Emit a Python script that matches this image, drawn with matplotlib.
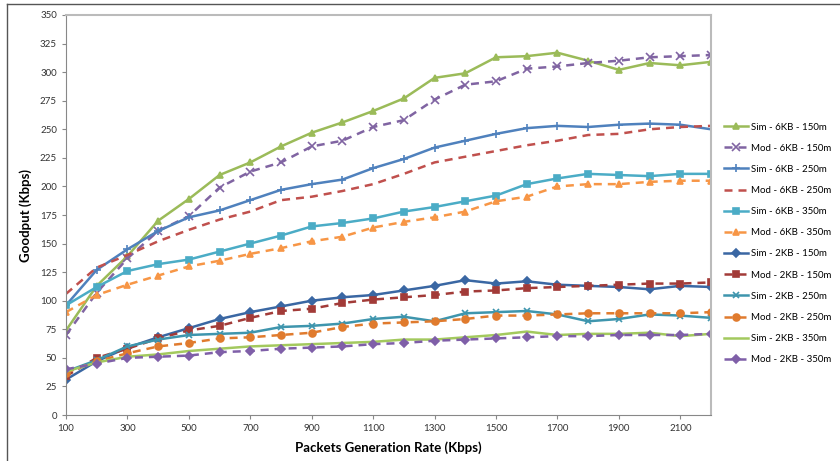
import matplotlib
matplotlib.use("Agg")
import matplotlib.pyplot as plt
from matplotlib.lines import Line2D

plt.rcParams['font.family'] = ['Lato', 'DejaVu Sans']

rate = [100, 200, 300, 400, 500, 600, 700, 800, 900, 1000, 1100,
        1200, 1300, 1400, 1500, 1600, 1700, 1800, 1900, 2000, 2100, 2200]

sim_6kb_150 = [74, 113, 139, 170, 189, 210, 221, 235, 247, 256, 266,
               277, 295, 299, 313, 314, 317, 310, 302, 308, 306, 309]
mod_6kb_150 = [70, 107, 137, 161, 174, 199, 213, 221, 235, 240, 252,
               258, 276, 289, 292, 303, 305, 308, 310, 313, 314, 315]
sim_6kb_250 = [96, 127, 145, 161, 173, 179, 188, 197, 202, 206, 216,
               224, 234, 240, 246, 251, 253, 252, 254, 255, 254, 250]
mod_6kb_250 = [106, 129, 140, 152, 162, 171, 178, 188, 191, 196, 202,
               211, 221, 226, 231, 236, 240, 245, 246, 250, 252, 253]
sim_6kb_350 = [96, 112, 126, 132, 136, 143, 150, 157, 165, 168, 172,
               178, 182, 187, 192, 202, 207, 211, 210, 209, 211, 211]
mod_6kb_350 = [90, 105, 114, 122, 130, 135, 141, 146, 152, 156, 164,
               169, 173, 178, 187, 191, 200, 202, 202, 204, 205, 205]
sim_2kb_150 = [31, 47, 59, 68, 76, 84, 90, 95, 100, 103, 105,
               109, 113, 118, 115, 117, 114, 113, 112, 110, 113, 112]
mod_2kb_150 = [34, 50, 58, 67, 74, 78, 85, 91, 93, 98, 101,
               103, 105, 108, 109, 111, 112, 113, 114, 115, 115, 116]
sim_2kb_250 = [38, 48, 60, 66, 70, 71, 72, 77, 78, 80, 84,
               86, 82, 89, 90, 91, 88, 82, 84, 88, 87, 85]
mod_2kb_250 = [37, 47, 54, 60, 63, 67, 68, 70, 72, 77, 80,
               81, 82, 84, 87, 87, 88, 89, 89, 89, 89, 90]
sim_2kb_350 = [38, 46, 51, 53, 56, 58, 60, 61, 62, 63, 64,
               66, 66, 68, 70, 73, 70, 71, 71, 72, 69, 71]
mod_2kb_350 = [40, 45, 50, 51, 52, 55, 56, 58, 59, 60, 62,
               63, 65, 66, 67, 68, 69, 69, 70, 70, 70, 71]

dash = (0, (3.2, 2.4))
series = [
    ("Sim - 6KB - 150m", sim_6kb_150, "#9BBB59", "-", "^", 5),
    ("Mod - 6KB - 150m", mod_6kb_150, "#8064A2", dash, "x", 6),
    ("Sim - 6KB - 250m", sim_6kb_250, "#4F81BD", "-", "+", 6),
    ("Mod - 6KB - 250m", mod_6kb_250, "#C0504D", dash, None, 0),
    ("Sim - 6KB - 350m", sim_6kb_350, "#4BACC6", "-", "s", 5),
    ("Mod - 6KB - 350m", mod_6kb_350, "#F79646", dash, "^", 5),
    ("Sim - 2KB - 150m", sim_2kb_150, "#3A67A3", "-", "D", 4),
    ("Mod - 2KB - 150m", mod_2kb_150, "#A23B38", dash, "s", 5),
    ("Sim - 2KB - 250m", sim_2kb_250, "#3E95AD", "-", "x", 5),
    ("Mod - 2KB - 250m", mod_2kb_250, "#E07B2E", dash, "o", 5),
    ("Sim - 2KB - 350m", sim_2kb_350, "#A3C95E", "-", None, 0),
    ("Mod - 2KB - 350m", mod_2kb_350, "#7F5FA8", dash, "D", 4),
]

fig = plt.figure(figsize=(8.4, 4.61), dpi=100)
ax = fig.add_axes([66/840, 46/461, 645/840, 400/461])

for label, vals, col, ls, mk, ms in series:
    ax.plot(rate, vals, color=col, linestyle=ls, linewidth=1.8,
            marker=mk, markersize=ms, markeredgewidth=1.2, label=label)

ax.set_xlim(100, 2200)
ax.set_ylim(0, 350)
ax.set_yticks(range(0, 351, 25))
ax.set_xticks(range(100, 2200, 200))
ax.tick_params(axis='both', labelsize=7, length=3, color='#888888',
               labelcolor='#333333')
for s in ['left', 'bottom']:
    ax.spines[s].set_color('#888888')
for s in ['top', 'right']:
    ax.spines[s].set_color('#bbbbbb')
    ax.spines[s].set_linewidth(1.5)

ax.set_xlabel("Packets Generation Rate (Kbps)", fontsize=9.5,
              fontweight='bold', labelpad=6)
ax.set_ylabel("Goodput (Kbps)", fontsize=9.5, fontweight='bold', labelpad=6)

fig.legend(loc='center left', bbox_to_anchor=(724/840, 0.472), frameon=False,
           fontsize=7, handlelength=2.5, handletextpad=0.25,
           labelspacing=1.25, borderaxespad=0, borderpad=0)

# outer frame of the screenshot
fig.add_artist(Line2D([7/840, 7/840], [0, 1 - 4/461], color='#555555',
                      linewidth=1, transform=fig.transFigure))
fig.add_artist(Line2D([7/840, 1], [1 - 4/461, 1 - 4/461], color='#555555',
                      linewidth=1, transform=fig.transFigure))

fig.savefig("out.png", dpi=100)
